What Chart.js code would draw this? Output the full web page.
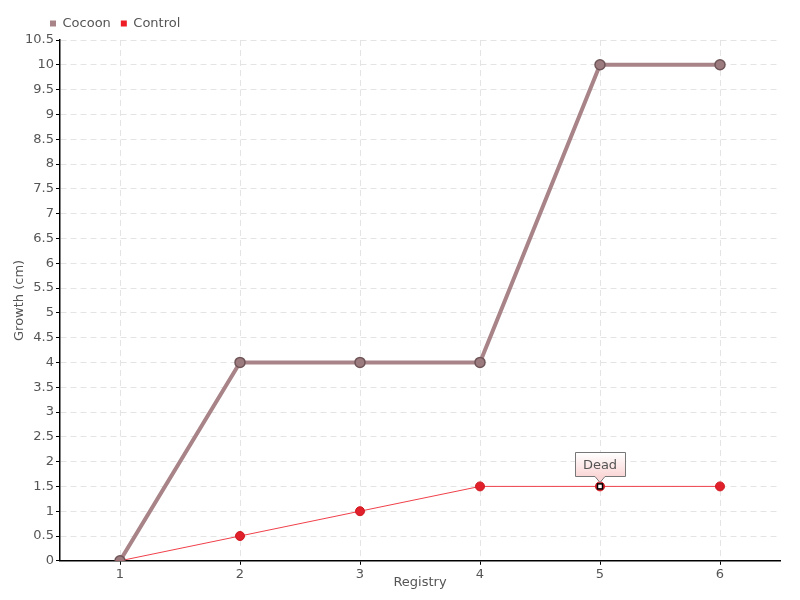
<!DOCTYPE html>
<html>
<head>
<meta charset="utf-8">
<script src="https://cdn.jsdelivr.net/npm/chart.js@4/dist/chart.umd.min.js"></script>
<style>
html,body{margin:0;padding:0;background:#fff;}
#wrap{width:800px;height:600px;}
</style>
</head>
<body>
<div id="wrap"><canvas id="c" width="800" height="600"></canvas></div>
<script>
const categories = ['1','2','3','4','5','6'];
const cocoonValues = [0, 4, 4, 4, 10, 10];
const controlValues = [0, 0.5, 1, 1.5, 1.5, 1.5];
const yTicks = [0,0.5,1,1.5,2,2.5,3,3.5,4,4.5,5,5.5,6,6.5,7,7.5,8,8.5,9,9.5,10,10.5];
const annotationSeries = 1;
const annotationIndex = 4;
const annotationText = 'Dead';

const FONT = "'DejaVu Sans', sans-serif";
const TXT = '#555';

const annotPlugin = {
  id: 'annot',
  afterLayout(chart) {
    const lg = chart.legend;
    if (lg) {
      lg.left += 28; lg.right += 28;
      if (lg.legendHitBoxes) lg.legendHitBoxes.forEach(b => { b.left += 28; });
    }
  },
  afterDatasetsDraw(chart) {
    const ctx = chart.ctx;
    const meta = chart.getDatasetMeta(annotationSeries);
    const el = meta.data[annotationIndex];
    const x = el.x, y = el.y;
    ctx.save();
    ctx.fillStyle = '#fff';
    ctx.strokeStyle = '#000';
    ctx.lineWidth = 1.5;
    ctx.fillRect(x - 2.5, y - 2.5, 5, 5);
    ctx.strokeRect(x - 2.5, y - 2.5, 5, 5);
    ctx.font = '13px ' + FONT;
    const w = 50, h = 24;
    const bx = Math.round(x - w / 2) + 0.5, by = Math.round(y - 34) + 0.5;
    const g = ctx.createLinearGradient(0, by, 0, by + h);
    g.addColorStop(0, '#ffffff');
    g.addColorStop(1, '#fbd6d6');
    ctx.beginPath();
    ctx.moveTo(bx, by);
    ctx.lineTo(bx + w, by);
    ctx.lineTo(bx + w, by + h);
    ctx.lineTo(x + 5, by + h);
    ctx.lineTo(x, by + h + 6);
    ctx.lineTo(x - 5, by + h);
    ctx.lineTo(bx, by + h);
    ctx.closePath();
    ctx.fillStyle = g;
    ctx.fill();
    ctx.strokeStyle = '#777';
    ctx.lineWidth = 1;
    ctx.stroke();
    ctx.fillStyle = TXT;
    ctx.textAlign = 'center';
    ctx.textBaseline = 'middle';
    ctx.fillText(annotationText, x, by + h / 2 + 1);
    ctx.restore();
  }
};

const f = { family: FONT, size: 13 };

new Chart(document.getElementById('c'), {
  type: 'line',
  data: {
    labels: categories,
    datasets: [
      {
        label: 'Cocoon',
        data: cocoonValues,
        borderColor: '#a88488',
        backgroundColor: '#a88488',
        borderWidth: 4,
        pointRadius: 5,
        pointBackgroundColor: '#9c7b7f',
        pointBorderColor: '#6f5558',
        pointBorderWidth: 1.5,
        tension: 0,
        fill: false
      },
      {
        label: 'Control',
        data: controlValues,
        borderColor: '#f0404a',
        backgroundColor: '#ee1c25',
        borderWidth: 1,
        pointRadius: 4.5,
        pointBackgroundColor: '#e0202a',
        pointBorderColor: '#d01820',
        pointBorderWidth: 1,
        tension: 0,
        fill: false
      }
    ]
  },
  options: {
    responsive: false,
    animation: false,
    layout: { padding: { left: 12, right: 20, top: 7, bottom: 10 } },
    plugins: {
      legend: {
        align: 'start',
        labels: {
          font: f,
          color: TXT,
          boxWidth: 6,
          boxHeight: 6,
          usePointStyle: true,
          pointStyle: 'rect',
          padding: 10,
          generateLabels(chart) {
            return chart.data.datasets.map((d, i) => ({
              text: d.label,
              fillStyle: d.backgroundColor,
              strokeStyle: d.backgroundColor,
              lineWidth: 0,
              pointStyle: 'rect',
              datasetIndex: i,
              fontColor: TXT
            }));
          }
        }
      },
      tooltip: { enabled: false }
    },
    scales: {
      x: {
        offset: true,
        title: { display: true, text: 'Registry', font: f, color: TXT, padding: { top: -10, bottom: 0 } },
        ticks: { font: f, color: TXT, padding: 2 },
        grid: {
          offset: false,
          color: '#e4e4e4',
          tickColor: '#000',
          tickLength: 4,
          tickBorderDash: []
        },
        border: { color: '#000', width: 1.5, dash: [6, 4] }
      },
      y: {
        min: 0,
        max: 10.5,
        afterBuildTicks(scale) { scale.ticks = yTicks.map(v => ({ value: v })); },
        afterFit(scale) { scale.width = 48; },
        title: { display: true, text: 'Growth (cm)', font: f, color: TXT, padding: { top: 0, bottom: 0 } },
        ticks: { font: f, color: TXT, padding: 2, autoSkip: false, callback: v => String(v) },
        grid: {
          color: '#e4e4e4',
          tickColor: '#000',
          tickLength: 4,
          tickBorderDash: []
        },
        border: { color: '#000', width: 1.5, dash: [6, 4] }
      }
    }
  },
  plugins: [annotPlugin]
});
</script>
</body>
</html>
